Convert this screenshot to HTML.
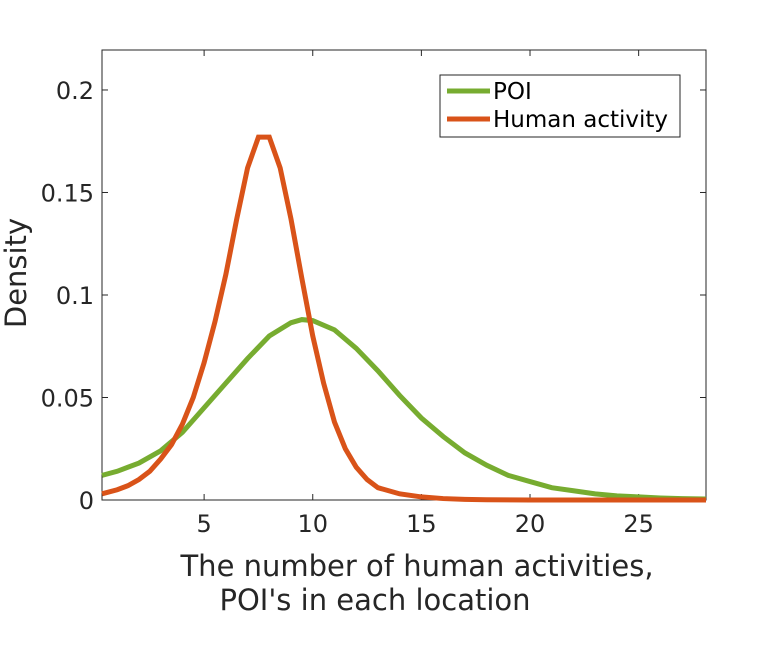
<!DOCTYPE html>
<html><head><meta charset="utf-8"><style>
body{margin:0;background:#fff}
svg{font-family:"DejaVu Sans","Liberation Sans",sans-serif}
</style></head><body>
<svg id="c" width="780" height="642"></svg>
<script>
const xTicks=[5,10,15,20,25];
const yTicks=[0,0.05,0.1,0.15,0.2];
const yTickLabels=["0","0.05","0.1","0.15","0.2"];
const poiX=[0.3,1,2,3,4,5,6,7,8,9,9.5,10,11,12,13,14,15,16,17,18,19,20,21,22,23,24,25,26,27,28.1];
const poiY=[0.012,0.014,0.018,0.024,0.033,0.045,0.057,0.069,0.080,0.0865,0.088,0.0875,0.083,0.074,0.063,0.051,0.040,0.031,0.023,0.017,0.012,0.009,0.006,0.0045,0.003,0.002,0.0015,0.001,0.0007,0.0005];
const humX=[0.3,1,1.5,2,2.5,3,3.5,4,4.5,5,5.5,6,6.5,7,7.5,8,8.5,9,9.5,10,10.5,11,11.5,12,12.5,13,14,15,16,17,18,20,28.1];
const humY=[0.003,0.005,0.007,0.010,0.014,0.020,0.027,0.037,0.050,0.067,0.087,0.110,0.137,0.162,0.177,0.177,0.162,0.137,0.108,0.080,0.057,0.038,0.025,0.016,0.010,0.006,0.003,0.0015,0.0007,0.0003,0.0001,0,0];
const L=102,R=706,T=50,B=500,xmin=0.3,xmax=28.1,ymin=0,ymax=0.2195;
const sx=v=>L+(v-xmin)/(xmax-xmin)*(R-L);
const sy=v=>B-(v-ymin)/(ymax-ymin)*(B-T);
const svg=document.getElementById('c');
const NS="http://www.w3.org/2000/svg";
function mk(tag,attrs,parent){const e=document.createElementNS(NS,tag);for(const k in attrs)e.setAttribute(k,attrs[k]);(parent||svg).appendChild(e);return e;}
const box=mk('rect',{x:L,y:T,width:R-L,height:B-T,fill:'#fff',stroke:'#262626','stroke-width':1});


xTicks.forEach(t=>{
  const x=sx(t);
  mk('line',{x1:x,y1:B,x2:x,y2:B-6,stroke:'#262626'});
  mk('line',{x1:x,y1:T,x2:x,y2:T+6,stroke:'#262626'});
  const tx=mk('text',{x:x,y:B+32,'text-anchor':'middle','font-size':24,fill:'#262626'});
  tx.textContent=t;
  
  
});
yTicks.forEach((t,i)=>{
  const y=sy(t);
  mk('line',{x1:L,y1:y,x2:L+6,y2:y,stroke:'#262626'});
  mk('line',{x1:R,y1:y,x2:R-6,y2:y,stroke:'#262626'});
  const tx=mk('text',{x:L-8,y:y+9,'text-anchor':'end','font-size':24,fill:'#262626'});
  tx.textContent=yTickLabels[i];
  
  
});
function line(xs,ys,color,name){
  const p=mk('polyline',{points:xs.map((x,i)=>sx(x)+','+sy(ys[i])).join(' '),fill:'none',stroke:color,'stroke-width':5,'stroke-linejoin':'miter'});
  
  
}
line(poiX,poiY,'#77AC30','poi-line');
line(humX,humY,'#D95319','human-activity-line');
const yt=mk('text',{x:0,y:0,transform:'translate(26,273) rotate(-90)','text-anchor':'middle','font-size':29,fill:'#262626'});
yt.textContent='Density';


const x1=mk('text',{x:417,y:576,'text-anchor':'middle','font-size':29,fill:'#262626'});
x1.textContent='The number of human activities,';


const x2=mk('text',{x:375,y:610,'text-anchor':'middle','font-size':29,fill:'#262626'});
x2.textContent="POI's in each location";


const lg=mk('g',{});


mk('rect',{x:440,y:75,width:240,height:62,fill:'#fff',stroke:'#262626','stroke-width':1},lg);
mk('line',{x1:447,y1:91,x2:490,y2:91,stroke:'#77AC30','stroke-width':5},lg);
mk('line',{x1:447,y1:119,x2:490,y2:119,stroke:'#D95319','stroke-width':5},lg);
const l1=mk('text',{x:493,y:99,'font-size':23,fill:'#000'},lg);
l1.textContent='POI';


const l2=mk('text',{x:493,y:127,'font-size':23,fill:'#000'},lg);
l2.textContent='Human activity';


</script>
</body></html>
